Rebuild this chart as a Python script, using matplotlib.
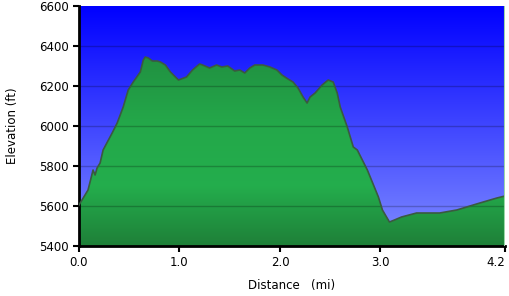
import numpy as np
import matplotlib.pyplot as plt
from matplotlib.colors import LinearSegmentedColormap

# elevation profile
distance_mi = [0.00, 0.09, 0.14, 0.16, 0.18, 0.21, 0.24, 0.33, 0.38, 0.44, 0.49,
               0.54, 0.61, 0.64, 0.66, 0.69, 0.73, 0.78, 0.81, 0.86, 0.91, 0.99,
               1.07, 1.13, 1.20, 1.23, 1.30, 1.37, 1.42, 1.48, 1.55, 1.60, 1.65,
               1.70, 1.75, 1.83, 1.90, 1.97, 2.02, 2.08, 2.13, 2.18, 2.23, 2.27,
               2.30, 2.35, 2.42, 2.48, 2.53, 2.57, 2.60, 2.67, 2.73, 2.77, 2.87,
               2.98, 3.02, 3.09, 3.14, 3.21, 3.36, 3.59, 3.76, 3.99, 4.16, 4.24]
elevation_ft = [5605, 5680, 5780, 5755, 5790, 5815, 5880, 5965, 6015, 6095, 6180,
                6220, 6270, 6330, 6345, 6340, 6325, 6325, 6320, 6305, 6270, 6230,
                6245, 6280, 6310, 6305, 6290, 6305, 6295, 6300, 6275, 6280, 6265,
                6290, 6305, 6305, 6295, 6280, 6255, 6235, 6220, 6190, 6145, 6115,
                6145, 6165, 6205, 6230, 6220, 6165, 6095, 5995, 5895, 5880, 5780,
                5645, 5580, 5520, 5530, 5545, 5565, 5565, 5580, 5615, 5640, 5650]

x_ticks = [0.0, 1.0, 2.0, 3.0, 4.24]
x_tick_labels = ['0.0', '1.0', '2.0', '3.0', '4.2']
y_ticks = [5400, 5600, 5800, 6000, 6200, 6400, 6600]

x0, x1 = 0.0, 4.24
y0, y1 = 5400, 6600

fig = plt.figure(figsize=(5.1, 2.96), dpi=100)
ax = fig.add_axes([79 / 510, 50 / 296, 426 / 510, 240 / 296])

# blue sky gradient
sky = LinearSegmentedColormap.from_list('sky', [(0.50, 0.55, 1.0), (0.0, 0.0, 1.0)])
grad = np.linspace(0, 1, 256).reshape(-1, 1)
ax.imshow(grad, cmap=sky, origin='lower', aspect='auto',
          extent=[x0, x1, y0, y1], zorder=0)

# green fill gradient clipped to the profile
greens = LinearSegmentedColormap.from_list(
    'grn', [(0.12, 0.50, 0.22), (0.14, 0.68, 0.30), (0.14, 0.66, 0.29),
            (0.13, 0.58, 0.26), (0.12, 0.50, 0.22)])
poly = ax.fill_between(distance_mi, elevation_ft, y0, color='none', zorder=1)
img = ax.imshow(grad, cmap=greens, origin='lower', aspect='auto',
                extent=[x0, x1, y0, y1], zorder=1)
img.set_clip_path(poly.get_paths()[0], transform=ax.transData)
ax.plot(distance_mi, elevation_ft, color='#3a5a40', lw=1.2, zorder=3)

for y in y_ticks[1:-1]:
    ax.axhline(y, color='black', alpha=0.22, lw=1, zorder=2)

ax.set_xlim(x0, x1)
ax.set_ylim(y0, y1)
ax.set_xticks(x_ticks)
ax.set_xticklabels(x_tick_labels)
ax.get_xticklabels()[-1].set_horizontalalignment('right')
ax.set_yticks(y_ticks)
ax.tick_params(direction='out', length=4, width=1.5, labelsize=8.5, colors='black')
for s in ['top', 'right']:
    ax.spines[s].set_visible(False)
for s in ['left', 'bottom']:
    ax.spines[s].set_linewidth(2)
ax.axvline(x1, color='#9ad8a8', lw=1.5, zorder=4)

ax.set_xlabel('Distance   (mi)', fontsize=8.5, labelpad=7)
ax.set_ylabel('Elevation (ft)', fontsize=8.5, labelpad=14)

fig.savefig('out.png', dpi=100)
